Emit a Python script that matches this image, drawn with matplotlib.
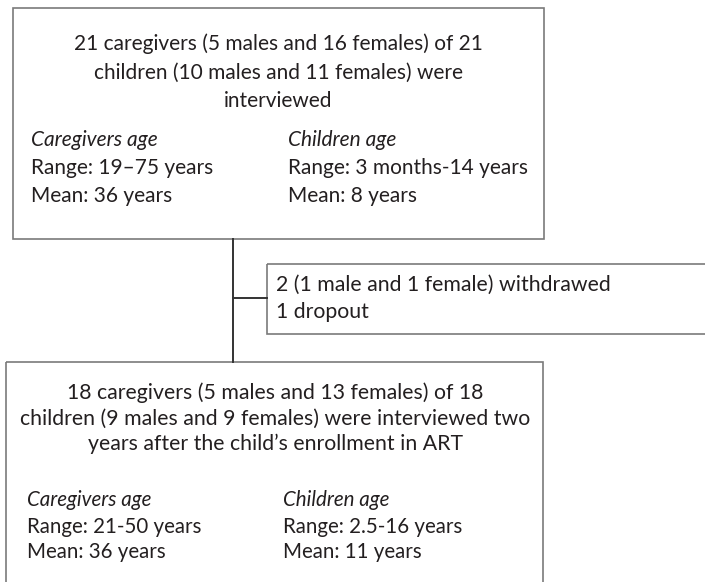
import matplotlib
matplotlib.use("Agg")
import matplotlib.pyplot as plt
from matplotlib.patches import Rectangle

plt.rcParams['font.family'] = ['Lato', 'DejaVu Sans']

# Content
top_header = ["21 caregivers (5 males and 16 females) of 21",
              "children (10 males and 11 females) were",
              "interviewed"]
top_left = ["Caregivers age", "Range: 19\u201375 years", "Mean: 36 years"]
top_right = ["Children age", "Range: 3 months-14 years", "Mean: 8 years"]
mid_lines = ["2 (1 male and 1 female) withdrawed", "1 dropout"]
bot_header = ["18 caregivers (5 males and 13 females) of 18",
              "children (9 males and 9 females) were interviewed two",
              "years after the child\u2019s enrollment in ART"]
bot_left = ["Caregivers age", "Range: 21-50 years", "Mean: 36 years"]
bot_right = ["Children age", "Range: 2.5-16 years", "Mean: 11 years"]

W, H = 705, 582
fig = plt.figure(figsize=(W / 100, H / 100), dpi=100)
ax = fig.add_axes([0, 0, 1, 1])
ax.set_xlim(0, W)
ax.set_ylim(H, 0)
ax.axis('off')

TXT = '#231f20'
EDGE = '#7a7a7a'
LINE = '#333333'

def box(x0, y0, x1, y1):
    ax.add_patch(Rectangle((x0, y0), x1 - x0, y1 - y0, fill=False,
                           edgecolor=EDGE, linewidth=1.2, clip_on=True))

def lines(items, x, ys, fs, ha='left', italic_first=False):
    for i, (t, y) in enumerate(zip(items, ys)):
        style = 'italic' if (italic_first and i == 0) else 'normal'
        ax.text(x, y, t, ha=ha, va='center', fontsize=fs, color=TXT,
                fontstyle=style)

# connectors
ax.plot([233, 233], [239, 362], color=LINE, lw=1.4)
ax.plot([233, 267], [298, 298], color=LINE, lw=1.4)

# boxes
box(13, 8, 544, 239)
box(267, 264, 720, 334)
box(6, 362, 543, 620)

lines(top_header, 278, [44, 73, 101], 15.0, ha='center')
lines(top_left, 31, [140, 168, 196], 15.0, italic_first=True)
lines(top_right, 288, [140, 168, 196], 15.0, italic_first=True)
lines(mid_lines, 276, [285, 312], 15.3)
lines(bot_header, 275, [393, 419, 444], 15.3, ha='center')
lines(bot_left, 27, [500, 527, 552], 14.8, italic_first=True)
lines(bot_right, 283, [500, 527, 552], 14.8, italic_first=True)

fig.savefig('out.png', dpi=100)
